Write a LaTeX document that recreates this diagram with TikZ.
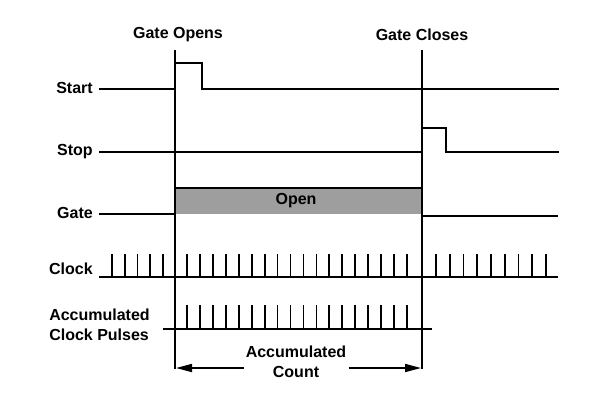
\documentclass[tikz,border=0pt]{standalone}
\usepackage{fontspec}
\setmainfont{Liberation Sans}
\usetikzlibrary{arrows.meta}
\tikzset{
  sig/.style={line width=1.4pt, line join=miter},
  tick/.style={line width=1.3pt},
  lbl/.style={font=\fontsize{12}{14}\selectfont\bfseries, inner sep=0pt},
  cnt/.style={line width=1.3pt, -{Triangle[length=12pt,width=6pt]}}
}
\begin{document}
\begin{tikzpicture}[x=0.75pt,y=-0.75pt]
\useasboundingbox (0,0) rectangle (600,415);
% gate markers
\coordinate (ot) at (175,50); \coordinate (ob) at (175,369);
\coordinate (ct) at (422,50); \coordinate (cb) at (422,369);
\draw[sig] (ot) -- (ob);
\draw[sig] (ct) -- (cb);
\node[lbl] (go) at (178,35) {Gate Opens};
\node[lbl] (gc) at (422,35) {Gate Closes};
% Start
\node[lbl, anchor=east] (start) at (93,88) {Start};
\draw[sig] (99,89) -- (175,89) -- (175,63) -- (202,63) -- (202,89) -- (559,89);
% Stop
\node[lbl, anchor=east] (stop) at (93,152) {Stop};
\draw[sig] (99,152) -- (422,152) -- (422,128) -- (446,128) -- (446,152) -- (559,152);
% Gate
\node[lbl, anchor=east] (gate) at (93,213) {Gate};
\draw[sig] (99,214) -- (175,214);
\draw[sig, fill=black!38] (175,214) -- (175,188) -- (422,188) -- (422,214);
\draw[sig] (422,216) -- (558,216);
\node[lbl] (open) at (296,201) {Open};
% Clock
\node[lbl, anchor=east] (clock) at (93,269) {Clock};
\draw[sig] (99,277) -- (558,277);
\foreach \i in {0,...,4} \draw[tick] ({112+12.75*\i},277) -- ++(0,-23);
\foreach \i in {0,...,17} \draw[tick] ({187+12.94*\i},277) -- ++(0,-23);
\foreach \i in {0,...,8} \draw[tick] ({436+13.75*\i},277) -- ++(0,-23);
% Accumulated
\node[lbl, align=left, anchor=east, font=\fontsize{12}{15}\selectfont\bfseries] (acc) at (150,325) {Accumulated\\Clock Pulses};
\draw[sig] (163,329) -- (432,329);
\foreach \i in {0,...,17} \draw[tick] ({187+12.94*\i},329) -- ++(0,-24);
% Count
\node[lbl, align=center, font=\fontsize{12}{15}\selectfont\bfseries] (count) at (296,362) {Accumulated\\Count};
\coordinate (la) at (176,368); \coordinate (ra) at (421,368);
\draw[cnt] (count.west |- la) ++(-2,0) -- (la);
\draw[cnt] (count.east |- ra) ++(2,0) -- (ra);
\end{tikzpicture}
\end{document}
